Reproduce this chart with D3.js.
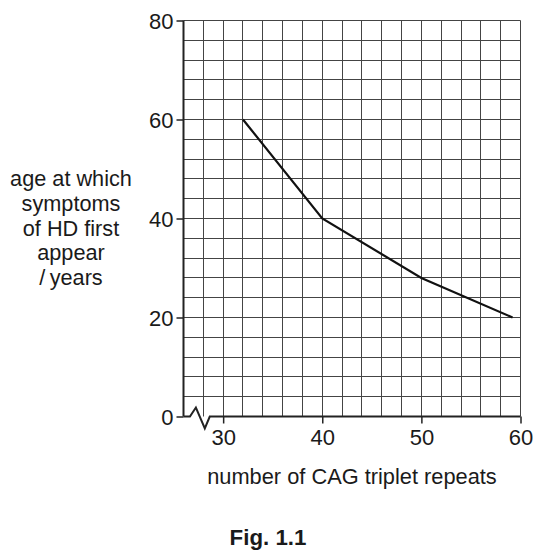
<!DOCTYPE html>
<html>
<head>
<meta charset="utf-8">
<script src="https://cdn.jsdelivr.net/npm/d3@7"></script>
<style>
  body { margin: 0; background: #fff; }
  text { font-family: "Liberation Sans", Arial, Helvetica, sans-serif; fill: #1a1a1a; }
</style>
</head>
<body>
<svg id="chart" width="557" height="560"></svg>
<script>
// data
const cagRepeats = [32, 40, 50, 59.2];
const onsetAge = [60, 40, 28, 20];
const xTicks = [30, 40, 50, 60];
const yTicks = [0, 20, 40, 60, 80];
const yTitle = ["age at which", "symptoms", "of HD first", "appear", "/\u2009years"];

const svg = d3.select('#chart');

const x = d3.scaleLinear().domain([26, 60]).range([183.5, 520.5]);
const y = d3.scaleLinear().domain([0, 80]).range([416.5, 20.5]);

const snap = v => Math.round(v - 0.5) + 0.5;

let grid = svg.append('g');

// vertical grid every 2 repeats
grid.selectAll('.vg')
    .data(d3.range(28, 61, 2))
    .enter().append('line')
    .attr('x1', d => snap(x(d)))
    .attr('x2', d => snap(x(d)))
    .attr('y1', y(0))
    .attr('y2', y(80))
    .attr('stroke', '#444')
    .attr('stroke-width', 1);

// horizontal grid every 4 years
grid.selectAll('.hg')
    .data(d3.range(4, 81, 4))
    .enter().append('line')
    .attr('x1', x(26))
    .attr('x2', x(60))
    .attr('y1', d => snap(y(d)))
    .attr('y2', d => snap(y(d)))
    .attr('stroke', '#444')
    .attr('stroke-width', 1);

// y axis
let yAxis = svg.append('g')
    .attr('transform', 'translate(' + x(26) + ',0)')
    .call(d3.axisLeft(y).tickValues(yTicks).tickSize(7).tickSizeOuter(0).tickPadding(3));
yAxis.select('.domain').remove();
yAxis.selectAll('.tick line').attr('stroke', '#222').attr('stroke-width', 1.5);
yAxis.selectAll('.tick text')
    .attr('font-size', '22px')
    .attr('fill', '#1a1a1a')
    .attr('dy', '0.36em');

svg.append('line')
    .attr('x1', x(26)).attr('x2', x(26))
    .attr('y1', y(80)).attr('y2', y(0))
    .attr('stroke', '#222').attr('stroke-width', 2);

// x axis
let xAxis = svg.append('g')
    .attr('transform', 'translate(0,' + y(0) + ')')
    .call(d3.axisBottom(x).tickValues(xTicks).tickSize(7).tickSizeOuter(0).tickPadding(6));
xAxis.select('.domain').remove();
xAxis.selectAll('.tick line').attr('stroke', '#222').attr('stroke-width', 1.5);
xAxis.selectAll('.tick text')
    .attr('font-size', '22px')
    .attr('fill', '#1a1a1a');

// axis line with break symbol
const breakX = [26.65, 27.25, 28.15, 28.65];
const breakDy = [0, -9, 12, 0];
let axisPts = [[x(26), y(0)]];
breakX.forEach(function (v, i) {
    axisPts.push([x(v), y(0) + breakDy[i]]);
});
axisPts.push([x(60), y(0)]);
svg.append('path')
    .attr('d', d3.line()(axisPts))
    .attr('fill', 'none')
    .attr('stroke', '#222')
    .attr('stroke-width', 2)
    .attr('stroke-linejoin', 'miter');

// data line
const pts = cagRepeats.map((v, i) => [x(v), y(onsetAge[i])]);
svg.append('path')
    .attr('d', d3.line().curve(d3.curveLinear)(pts))
    .attr('fill', 'none')
    .attr('stroke', '#111')
    .attr('stroke-width', 2.2);

// y title
svg.append('text')
    .attr('text-anchor', 'middle')
    .attr('font-size', '21.7px')
    .selectAll('tspan')
    .data(yTitle)
    .enter().append('tspan')
    .attr('x', 71)
    .attr('y', (d, i) => 186 + i * 24.8)
    .text(d => d);

// x title
svg.append('text')
    .attr('x', 352)
    .attr('y', 484)
    .attr('text-anchor', 'middle')
    .attr('font-size', '21.8px')
    .text('number of CAG triplet repeats');

svg.append('text')
    .attr('x', 268)
    .attr('y', 545)
    .attr('text-anchor', 'middle')
    .attr('font-size', '22.3px')
    .attr('font-weight', 'bold')
    .text('Fig. 1.1');
</script>
</body>
</html>
